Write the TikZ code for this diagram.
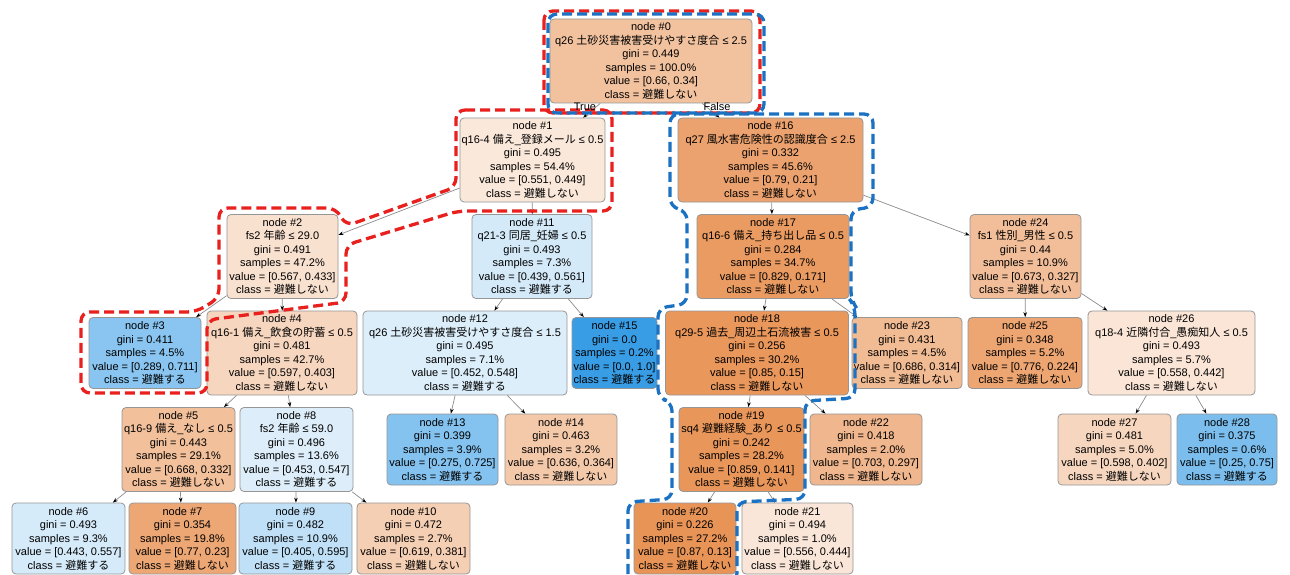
\documentclass[tikz,border=0pt]{standalone}
\usepackage{fontspec}
\setmainfont{Liberation Sans}
\newfontfamily\jp{Noto Sans CJK JP}
\usetikzlibrary{arrows.meta}
\newcommand{\jpt}[1]{{\jp #1}}
\definecolor{nodeborder}{RGB}{150,150,150}
\definecolor{edgegray}{RGB}{140,140,140}
\definecolor{hlred}{RGB}{232,32,30}
\definecolor{hlblue}{RGB}{27,113,194}
\definecolor{c0}{RGB}{242,194,159}
\definecolor{c1}{RGB}{250,232,218}
\definecolor{c16}{RGB}{236,162,110}
\definecolor{c2}{RGB}{249,225,208}
\definecolor{c11}{RGB}{212,234,249}
\definecolor{c17}{RGB}{234,155,98}
\definecolor{c24}{RGB}{242,190,153}
\definecolor{c3}{RGB}{137,197,240}
\definecolor{c4}{RGB}{247,214,191}
\definecolor{c12}{RGB}{220,238,250}
\definecolor{c15}{RGB}{57,157,229}
\definecolor{c18}{RGB}{234,151,92}
\definecolor{c23}{RGB}{241,187,147}
\definecolor{c25}{RGB}{237,165,114}
\definecolor{c26}{RGB}{250,229,214}
\definecolor{c5}{RGB}{242,192,155}
\definecolor{c8}{RGB}{221,238,250}
\definecolor{c13}{RGB}{132,194,239}
\definecolor{c14}{RGB}{244,201,170}
\definecolor{c19}{RGB}{233,150,90}
\definecolor{c22}{RGB}{240,182,141}
\definecolor{c27}{RGB}{246,214,190}
\definecolor{c28}{RGB}{123,190,238}
\definecolor{c6}{RGB}{214,235,250}
\definecolor{c7}{RGB}{237,167,117}
\definecolor{c9}{RGB}{192,224,247}
\definecolor{c10}{RGB}{245,207,179}
\definecolor{c20}{RGB}{233,148,87}
\definecolor{c21}{RGB}{250,230,216}
\begin{document}
\begin{tikzpicture}[x=1pt,y=-1pt,
  tn/.style={draw=nodeborder, line width=0.8pt, rounded corners=4pt, align=center,
    inner sep=0pt, font=\fontsize{11}{13.5}\selectfont},
  six/.style={minimum height=84pt},
  five/.style={minimum height=71pt},
  conn/.style={draw=edgegray, line width=0.7pt, -{Stealth[length=5pt,width=3.6pt,black]}},
  redline/.style={draw=hlred, line width=3.3pt, dash pattern=on 10pt off 5pt, rounded corners=9pt},
  blueline/.style={draw=hlblue, line width=3.3pt, dash pattern=on 10pt off 5pt, rounded corners=9pt},
  lbl/.style={font=\fontsize{11}{13}\selectfont, inner sep=0pt}]
\fill[white] (0,0) rectangle (1290,575);
\useasboundingbox (0,0) rectangle (1290,575);

% row 0
\node[tn,six,fill=c0,minimum width=202pt] (n0) at (651,61) {node \#0\\q26 \jpt{土砂災害被害受けやすさ度合} ≤ 2.5\\gini = 0.449\\samples = 100.0\%\\value = [0.66, 0.34]\\class = \jpt{避難しない}};
% row 1
\node[tn,six,fill=c1,minimum width=145pt] (n1) at (532.5,160) {node \#1\\q16-4 \jpt{備え}\_\jpt{登録メール} ≤ 0.5\\gini = 0.495\\samples = 54.4\%\\value = [0.551, 0.449]\\class = \jpt{避難しない}};
\node[tn,six,fill=c16,minimum width=185pt] (n16) at (770.5,160) {node \#16\\q27 \jpt{風水害危険性の認識度合} ≤ 2.5\\gini = 0.332\\samples = 45.6\%\\value = [0.79, 0.21]\\class = \jpt{避難しない}};
% row 2
\node[tn,six,fill=c2,minimum width=111pt] (n2) at (282.5,256.5) {node \#2\\fs2 \jpt{年齢} ≤ 29.0\\gini = 0.491\\samples = 47.2\%\\value = [0.567, 0.433]\\class = \jpt{避難しない}};
\node[tn,six,fill=c11,minimum width=120pt] (n11) at (532,256.5) {node \#11\\q21-3 \jpt{同居}\_\jpt{妊婦} ≤ 0.5\\gini = 0.493\\samples = 7.3\%\\value = [0.439, 0.561]\\class = \jpt{避難する}};
\node[tn,six,fill=c17,minimum width=152pt] (n17) at (773,256.5) {node \#17\\q16-6 \jpt{備え}\_\jpt{持ち出し品} ≤ 0.5\\gini = 0.284\\samples = 34.7\%\\value = [0.829, 0.171]\\class = \jpt{避難しない}};
\node[tn,six,fill=c24,minimum width=111pt] (n24) at (1025.5,256.5) {node \#24\\fs1 \jpt{性別}\_\jpt{男性} ≤ 0.5\\gini = 0.44\\samples = 10.9\%\\value = [0.673, 0.327]\\class = \jpt{避難しない}};
% row 3
\node[tn,five,fill=c3,minimum width=112pt] (n3) at (145,353) {node \#3\\gini = 0.411\\samples = 4.5\%\\value = [0.289, 0.711]\\class = \jpt{避難する}};
\node[tn,six,fill=c4,minimum width=150pt] (n4) at (282,353) {node \#4\\q16-1 \jpt{備え}\_\jpt{飲食の貯蓄} ≤ 0.5\\gini = 0.481\\samples = 42.7\%\\value = [0.597, 0.403]\\class = \jpt{避難しない}};
\node[tn,six,fill=c12,minimum width=204pt] (n12) at (465,353) {node \#12\\q26 \jpt{土砂災害被害受けやすさ度合} ≤ 1.5\\gini = 0.495\\samples = 7.1\%\\value = [0.452, 0.548]\\class = \jpt{避難する}};
\node[tn,five,fill=c15,minimum width=85pt] (n15) at (614.5,353) {node \#15\\gini = 0.0\\samples = 0.2\%\\value = [0.0, 1.0]\\class = \jpt{避難する}};
\node[tn,six,fill=c18,minimum width=183pt] (n18) at (757,353) {node \#18\\q29-5 \jpt{過去}\_\jpt{周辺土石流被害} ≤ 0.5\\gini = 0.256\\samples = 30.2\%\\value = [0.85, 0.15]\\class = \jpt{避難しない}};
\node[tn,five,fill=c23,minimum width=110pt] (n23) at (907,353) {node \#23\\gini = 0.431\\samples = 4.5\%\\value = [0.686, 0.314]\\class = \jpt{避難しない}};
\node[tn,five,fill=c25,minimum width=114pt] (n25) at (1025,353) {node \#25\\gini = 0.348\\samples = 5.2\%\\value = [0.776, 0.224]\\class = \jpt{避難しない}};
\node[tn,six,fill=c26,minimum width=167pt] (n26) at (1171.5,353) {node \#26\\q18-4 \jpt{近隣付合}\_\jpt{愚痴知人} ≤ 0.5\\gini = 0.493\\samples = 5.7\%\\value = [0.558, 0.442]\\class = \jpt{避難しない}};
% row 4
\node[tn,six,fill=c5,minimum width=113pt] (n5) at (178.5,449.5) {node \#5\\q16-9 \jpt{備え}\_\jpt{なし} ≤ 0.5\\gini = 0.443\\samples = 29.1\%\\value = [0.668, 0.332]\\class = \jpt{避難しない}};
\node[tn,six,fill=c8,minimum width=113pt] (n8) at (296.5,449.5) {node \#8\\fs2 \jpt{年齢} ≤ 59.0\\gini = 0.496\\samples = 13.6\%\\value = [0.453, 0.547]\\class = \jpt{避難する}};
\node[tn,five,fill=c13,minimum width=111pt] (n13) at (442.5,449.5) {node \#13\\gini = 0.399\\samples = 3.9\%\\value = [0.275, 0.725]\\class = \jpt{避難する}};
\node[tn,five,fill=c14,minimum width=112pt] (n14) at (561,449.5) {node \#14\\gini = 0.463\\samples = 3.2\%\\value = [0.636, 0.364]\\class = \jpt{避難しない}};
\node[tn,six,fill=c19,minimum width=125pt] (n19) at (741.5,449.5) {node \#19\\sq4 \jpt{避難経験}\_\jpt{あり} ≤ 0.5\\gini = 0.242\\samples = 28.2\%\\value = [0.859, 0.141]\\class = \jpt{避難しない}};
\node[tn,five,fill=c22,minimum width=112pt] (n22) at (866,449.5) {node \#22\\gini = 0.418\\samples = 2.0\%\\value = [0.703, 0.297]\\class = \jpt{避難しない}};
\node[tn,five,fill=c27,minimum width=113pt] (n27) at (1114.5,449.5) {node \#27\\gini = 0.481\\samples = 5.0\%\\value = [0.598, 0.402]\\class = \jpt{避難しない}};
\node[tn,five,fill=c28,minimum width=100pt] (n28) at (1227,449.5) {node \#28\\gini = 0.375\\samples = 0.6\%\\value = [0.25, 0.75]\\class = \jpt{避難する}};
% row 5
\node[tn,five,fill=c6,minimum width=113pt] (n6) at (68.5,538.5) {node \#6\\gini = 0.493\\samples = 9.3\%\\value = [0.443, 0.557]\\class = \jpt{避難する}};
\node[tn,five,fill=c7,minimum width=107pt] (n7) at (182.5,538.5) {node \#7\\gini = 0.354\\samples = 19.8\%\\value = [0.77, 0.23]\\class = \jpt{避難しない}};
\node[tn,five,fill=c9,minimum width=113pt] (n9) at (295.5,538.5) {node \#9\\gini = 0.482\\samples = 10.9\%\\value = [0.405, 0.595]\\class = \jpt{避難する}};
\node[tn,five,fill=c10,minimum width=113pt] (n10) at (413.5,538.5) {node \#10\\gini = 0.472\\samples = 2.7\%\\value = [0.619, 0.381]\\class = \jpt{避難しない}};
\node[tn,five,fill=c20,minimum width=102pt] (n20) at (685,538.5) {node \#20\\gini = 0.226\\samples = 27.2\%\\value = [0.87, 0.13]\\class = \jpt{避難しない}};
\node[tn,five,fill=c21,minimum width=111pt] (n21) at (797.5,538.5) {node \#21\\gini = 0.494\\samples = 1.0\%\\value = [0.556, 0.444]\\class = \jpt{避難しない}};

% edges
\foreach \a/\b in {n0/n1,n0/n16,n1/n2,n1/n11,n2/n3,n2/n4,n4/n5,n4/n8,n5/n6,n5/n7,n8/n9,n8/n10,n11/n12,n11/n15,n12/n13,n12/n14,n16/n17,n16/n24,n17/n18,n17/n23,n18/n19,n18/n22,n19/n20,n19/n21,n24/n25,n24/n26,n26/n27,n26/n28}
  \draw[conn] (\a) -- (\b);

% highlighted paths
\draw[redline] (544,11) rectangle (760,113);
\draw[redline] (456,110) -- (612,110) -- (612,211) -- (458,211) -- (346,245) -- (346,302)
  -- (207,320) -- (207,393) -- (81,393) -- (81,312) -- (196,312) -- (219,298) -- (219,208)
  -- (336,208) -- (346,226) -- (456,187) -- cycle;
\draw[blueline] (548,14) rectangle (764,113);
\draw[blueline] (670,114) -- (873,114) -- (873,207) -- (851,210) -- (851,301) -- (855,306)
  -- (855,398) -- (805,401) -- (805,499) -- (737,502) -- (737,582) -- (628,582) -- (628,502)
  -- (672,499) -- (672,402) -- (658,398) -- (658,308) -- (687,304) -- (687,211) -- (670,207) -- cycle;

% edge labels
\node[lbl] (ltrue) at (585,107) {True};
\node[lbl] (lfalse) at (717,107) {False};
\end{tikzpicture}
\end{document}
